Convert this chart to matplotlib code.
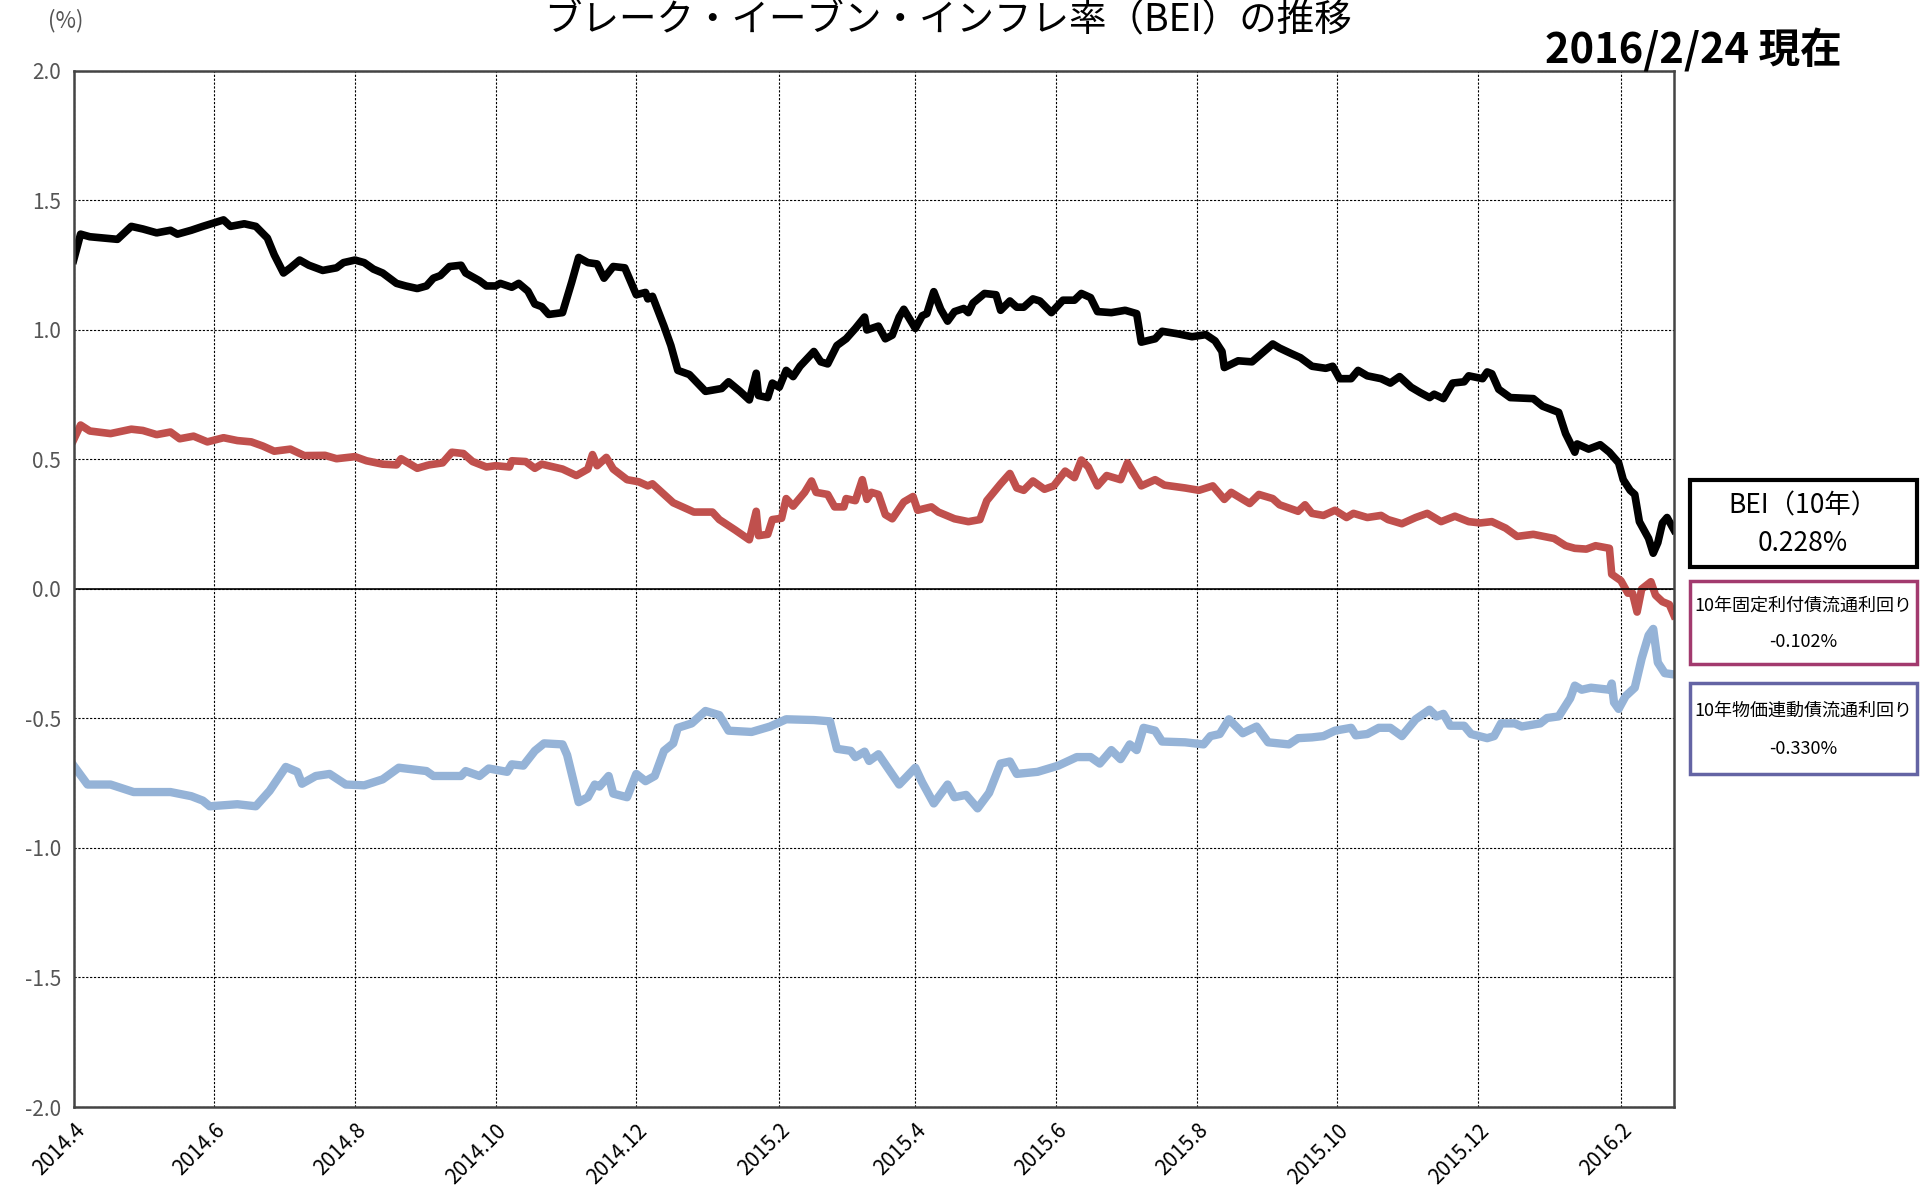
import pandas as pd
import matplotlib.pyplot as plt
from matplotlib.patches import Rectangle

plt.rcParams['font.family'] = ['Noto Sans CJK JP', 'DejaVu Sans']

# BEI (10y), black
bei_dates = [
    "2014-04-01", "2014-04-04", "2014-04-08", "2014-04-20", "2014-04-26", "2014-05-01", "2014-05-07",
    "2014-05-13", "2014-05-16", "2014-05-22", "2014-05-27", "2014-06-05", "2014-06-08", "2014-06-14",
    "2014-06-19", "2014-06-24", "2014-06-27", "2014-07-01", "2014-07-04", "2014-07-08", "2014-07-12",
    "2014-07-18", "2014-07-24", "2014-07-27", "2014-08-01", "2014-08-05", "2014-08-09", "2014-08-13",
    "2014-08-19", "2014-08-23", "2014-08-28", "2014-09-01", "2014-09-04", "2014-09-07", "2014-09-11",
    "2014-09-16", "2014-09-18", "2014-09-24", "2014-09-27", "2014-10-01", "2014-10-03", "2014-10-08",
    "2014-10-11", "2014-10-15", "2014-10-18", "2014-10-21", "2014-10-24", "2014-10-30", "2014-11-03",
    "2014-11-06", "2014-11-10", "2014-11-14", "2014-11-17", "2014-11-21", "2014-11-26", "2014-12-01",
    "2014-12-05", "2014-12-06", "2014-12-08", "2014-12-13", "2014-12-16", "2014-12-19", "2014-12-24",
    "2014-12-31", "2015-01-07", "2015-01-10", "2015-01-15", "2015-01-19", "2015-01-22", "2015-01-23",
    "2015-01-27", "2015-01-29", "2015-02-01", "2015-02-04", "2015-02-07", "2015-02-10", "2015-02-16",
    "2015-02-19", "2015-02-22", "2015-02-26", "2015-03-02", "2015-03-06", "2015-03-10", "2015-03-11",
    "2015-03-16", "2015-03-19", "2015-03-22", "2015-03-25", "2015-03-27", "2015-04-01", "2015-04-04",
    "2015-04-06", "2015-04-09", "2015-04-12", "2015-04-15", "2015-04-18", "2015-04-22", "2015-04-24",
    "2015-04-26", "2015-05-01", "2015-05-06", "2015-05-08", "2015-05-12", "2015-05-15", "2015-05-18",
    "2015-05-22", "2015-05-25", "2015-05-30", "2015-06-04", "2015-06-09", "2015-06-12", "2015-06-16",
    "2015-06-19", "2015-06-25", "2015-07-01", "2015-07-06", "2015-07-08", "2015-07-14", "2015-07-17",
    "2015-07-24", "2015-07-30", "2015-08-05", "2015-08-09", "2015-08-12", "2015-08-13", "2015-08-19",
    "2015-08-25", "2015-08-28", "2015-09-03", "2015-09-06", "2015-09-11", "2015-09-15", "2015-09-20",
    "2015-09-26", "2015-09-29", "2015-10-02", "2015-10-07", "2015-10-10", "2015-10-14", "2015-10-20",
    "2015-10-24", "2015-10-28", "2015-11-02", "2015-11-06", "2015-11-10", "2015-11-12", "2015-11-16",
    "2015-11-20", "2015-11-25", "2015-11-27", "2015-12-03", "2015-12-05", "2015-12-07", "2015-12-10",
    "2015-12-15", "2015-12-25", "2015-12-29", "2016-01-05", "2016-01-08", "2016-01-12", "2016-01-13",
    "2016-01-18", "2016-01-23", "2016-01-27", "2016-01-31", "2016-02-02", "2016-02-05", "2016-02-07",
    "2016-02-09", "2016-02-13", "2016-02-15", "2016-02-17", "2016-02-19", "2016-02-21", "2016-02-24",
]
bei_values = [
    1.27, 1.37, 1.36, 1.35, 1.40, 1.39, 1.375, 1.385, 1.37, 1.385, 1.40, 1.425, 1.40, 1.41,
    1.40, 1.355, 1.29, 1.22, 1.24, 1.27, 1.25, 1.23, 1.24, 1.26, 1.27, 1.26, 1.235, 1.22,
    1.18, 1.17, 1.16, 1.17, 1.20, 1.21, 1.245, 1.25, 1.22, 1.19, 1.17, 1.17, 1.18, 1.165,
    1.18, 1.15, 1.10, 1.09, 1.06, 1.067, 1.185, 1.28, 1.26, 1.255, 1.20, 1.245, 1.24, 1.136,
    1.145, 1.12, 1.13, 1.015, 0.94, 0.844, 0.828, 0.763, 0.774, 0.80, 0.763, 0.73, 0.833, 0.747,
    0.739, 0.795, 0.779, 0.844, 0.82, 0.86, 0.917, 0.877, 0.869, 0.94, 0.966, 1.006, 1.05, 1.00,
    1.015, 0.966, 0.98, 1.05, 1.08, 1.006, 1.055, 1.063, 1.148, 1.08, 1.034, 1.071, 1.083, 1.067,
    1.104, 1.141, 1.136, 1.076, 1.112, 1.088, 1.088, 1.12, 1.112, 1.067, 1.115, 1.115, 1.141, 1.125,
    1.071, 1.067, 1.076, 1.063, 0.953, 0.966, 0.995, 0.985, 0.974, 0.982, 0.958, 0.917, 0.855, 0.881,
    0.877, 0.90, 0.946, 0.93, 0.909, 0.893, 0.86, 0.852, 0.86, 0.812, 0.812, 0.844, 0.823, 0.812,
    0.795, 0.82, 0.779, 0.758, 0.739, 0.752, 0.735, 0.795, 0.80, 0.823, 0.812, 0.838, 0.831, 0.771,
    0.739, 0.735, 0.706, 0.682, 0.60, 0.528, 0.56, 0.54, 0.557, 0.528, 0.487, 0.422, 0.381, 0.365,
    0.26, 0.195, 0.138, 0.179, 0.255, 0.276, 0.228,
]

# 10y fixed-rate JGB yield, red
jgb_dates = [
    "2014-04-01", "2014-04-04", "2014-04-08", "2014-04-17", "2014-04-26", "2014-05-01", "2014-05-07",
    "2014-05-13", "2014-05-17", "2014-05-23", "2014-05-29", "2014-06-05", "2014-06-11", "2014-06-17",
    "2014-06-22", "2014-06-27", "2014-07-04", "2014-07-10", "2014-07-19", "2014-07-24", "2014-08-01",
    "2014-08-06", "2014-08-13", "2014-08-19", "2014-08-21", "2014-08-28", "2014-09-02", "2014-09-08",
    "2014-09-12", "2014-09-17", "2014-09-21", "2014-09-27", "2014-10-01", "2014-10-07", "2014-10-08",
    "2014-10-14", "2014-10-18", "2014-10-21", "2014-10-30", "2014-11-05", "2014-11-10", "2014-11-12",
    "2014-11-14", "2014-11-18", "2014-11-21", "2014-11-27", "2014-12-02", "2014-12-06", "2014-12-08",
    "2014-12-17", "2014-12-26", "2015-01-03", "2015-01-06", "2015-01-13", "2015-01-19", "2015-01-22",
    "2015-01-23", "2015-01-27", "2015-01-29", "2015-02-02", "2015-02-04", "2015-02-07", "2015-02-12",
    "2015-02-15", "2015-02-17", "2015-02-22", "2015-02-25", "2015-03-01", "2015-03-02", "2015-03-06",
    "2015-03-09", "2015-03-11", "2015-03-13", "2015-03-16", "2015-03-19", "2015-03-22", "2015-03-27",
    "2015-03-31", "2015-04-02", "2015-04-08", "2015-04-11", "2015-04-18", "2015-04-24", "2015-04-29",
    "2015-05-02", "2015-05-08", "2015-05-12", "2015-05-15", "2015-05-18", "2015-05-22", "2015-05-27",
    "2015-05-31", "2015-06-05", "2015-06-09", "2015-06-12", "2015-06-15", "2015-06-19", "2015-06-23",
    "2015-06-29", "2015-07-02", "2015-07-08", "2015-07-14", "2015-07-18", "2015-07-27", "2015-08-02",
    "2015-08-08", "2015-08-13", "2015-08-16", "2015-08-24", "2015-08-28", "2015-09-03", "2015-09-06",
    "2015-09-14", "2015-09-17", "2015-09-20", "2015-09-25", "2015-09-30", "2015-10-05", "2015-10-08",
    "2015-10-14", "2015-10-20", "2015-10-23", "2015-10-29", "2015-11-04", "2015-11-09", "2015-11-15",
    "2015-11-21", "2015-11-27", "2015-12-02", "2015-12-07", "2015-12-13", "2015-12-18", "2015-12-25",
    "2016-01-03", "2016-01-08", "2016-01-12", "2016-01-17", "2016-01-21", "2016-01-27", "2016-01-28",
    "2016-02-01", "2016-02-04", "2016-02-06", "2016-02-08", "2016-02-10", "2016-02-14", "2016-02-16",
    "2016-02-19", "2016-02-22", "2016-02-24",
]
jgb_values = [
    0.576, 0.633, 0.61, 0.60, 0.617, 0.612, 0.596, 0.606, 0.58, 0.59, 0.568, 0.584, 0.573, 0.568,
    0.552, 0.532, 0.54, 0.515, 0.516, 0.503, 0.511, 0.495, 0.482, 0.479, 0.503, 0.466, 0.479, 0.487,
    0.528, 0.523, 0.492, 0.471, 0.476, 0.471, 0.495, 0.492, 0.466, 0.482, 0.463, 0.438, 0.463, 0.519,
    0.476, 0.508, 0.463, 0.422, 0.414, 0.398, 0.406, 0.333, 0.297, 0.297, 0.268, 0.227, 0.19, 0.30,
    0.206, 0.211, 0.268, 0.273, 0.349, 0.32, 0.373, 0.417, 0.373, 0.365, 0.317, 0.317, 0.349, 0.341,
    0.422, 0.346, 0.373, 0.365, 0.287, 0.271, 0.336, 0.357, 0.304, 0.317, 0.297, 0.271, 0.26, 0.268,
    0.341, 0.406, 0.446, 0.39, 0.381, 0.417, 0.385, 0.398, 0.455, 0.43, 0.498, 0.471, 0.398, 0.438,
    0.422, 0.487, 0.398, 0.422, 0.401, 0.39, 0.381, 0.398, 0.346, 0.373, 0.33, 0.365, 0.349, 0.325,
    0.30, 0.325, 0.292, 0.284, 0.304, 0.276, 0.292, 0.276, 0.284, 0.268, 0.252, 0.276, 0.292, 0.26,
    0.281, 0.26, 0.255, 0.26, 0.235, 0.203, 0.211, 0.195, 0.167, 0.157, 0.154, 0.167, 0.157, 0.057,
    0.032, -0.016, -0.016, -0.089, 0.0, 0.028, -0.024, -0.049, -0.06, -0.102,
]

# 10y inflation-indexed JGB yield, light blue
jgbi_dates = [
    "2014-04-01", "2014-04-07", "2014-04-17", "2014-04-27", "2014-05-13", "2014-05-22", "2014-05-27",
    "2014-05-30", "2014-06-11", "2014-06-19", "2014-06-25", "2014-07-02", "2014-07-07", "2014-07-09",
    "2014-07-15", "2014-07-21", "2014-07-28", "2014-08-05", "2014-08-13", "2014-08-20", "2014-09-01",
    "2014-09-04", "2014-09-16", "2014-09-18", "2014-09-24", "2014-09-28", "2014-10-01", "2014-10-06",
    "2014-10-08", "2014-10-13", "2014-10-18", "2014-10-22", "2014-10-30", "2014-11-01", "2014-11-06",
    "2014-11-10", "2014-11-13", "2014-11-15", "2014-11-19", "2014-11-21", "2014-11-27", "2014-12-01",
    "2014-12-05", "2014-12-09", "2014-12-13", "2014-12-17", "2014-12-19", "2014-12-25", "2014-12-31",
    "2015-01-06", "2015-01-10", "2015-01-20", "2015-01-28", "2015-02-04", "2015-02-16", "2015-02-23",
    "2015-02-26", "2015-03-04", "2015-03-06", "2015-03-10", "2015-03-12", "2015-03-16", "2015-03-20",
    "2015-03-25", "2015-04-01", "2015-04-04", "2015-04-09", "2015-04-15", "2015-04-18", "2015-04-23",
    "2015-04-28", "2015-05-03", "2015-05-08", "2015-05-12", "2015-05-15", "2015-05-24", "2015-06-02",
    "2015-06-10", "2015-06-16", "2015-06-20", "2015-06-25", "2015-06-29", "2015-07-03", "2015-07-06",
    "2015-07-09", "2015-07-14", "2015-07-17", "2015-07-27", "2015-08-04", "2015-08-07", "2015-08-11",
    "2015-08-15", "2015-08-21", "2015-08-27", "2015-09-01", "2015-09-10", "2015-09-14", "2015-09-20",
    "2015-09-25", "2015-09-30", "2015-10-07", "2015-10-09", "2015-10-14", "2015-10-19", "2015-10-24",
    "2015-10-29", "2015-11-04", "2015-11-10", "2015-11-13", "2015-11-16", "2015-11-19", "2015-11-25",
    "2015-11-28", "2015-12-05", "2015-12-08", "2015-12-11", "2015-12-17", "2015-12-20", "2015-12-28",
    "2015-12-31", "2016-01-05", "2016-01-10", "2016-01-12", "2016-01-15", "2016-01-19", "2016-01-27",
    "2016-01-28", "2016-01-29", "2016-01-31", "2016-02-03", "2016-02-07", "2016-02-10", "2016-02-13",
    "2016-02-15", "2016-02-17", "2016-02-20", "2016-02-24",
]
jgbi_values = [
    -0.682, -0.755, -0.755, -0.784, -0.784, -0.80, -0.817, -0.839, -0.831, -0.839, -0.779, -0.687,
    -0.706, -0.752, -0.722, -0.714, -0.755, -0.758, -0.735, -0.69, -0.703, -0.722, -0.722, -0.703,
    -0.722, -0.693, -0.698, -0.706, -0.677, -0.682, -0.625, -0.596, -0.60, -0.641, -0.823, -0.804,
    -0.755, -0.763, -0.722, -0.79, -0.804, -0.714, -0.742, -0.722, -0.625, -0.596, -0.536, -0.519,
    -0.471, -0.487, -0.547, -0.552, -0.531, -0.503, -0.506, -0.511, -0.617, -0.625, -0.649, -0.628,
    -0.664, -0.638, -0.69, -0.755, -0.69, -0.747, -0.828, -0.755, -0.804, -0.795, -0.847, -0.787,
    -0.674, -0.666, -0.714, -0.706, -0.682, -0.649, -0.649, -0.674, -0.622, -0.657, -0.60, -0.622,
    -0.536, -0.547, -0.589, -0.592, -0.60, -0.568, -0.56, -0.503, -0.557, -0.531, -0.592, -0.60,
    -0.576, -0.573, -0.568, -0.547, -0.536, -0.565, -0.56, -0.536, -0.536, -0.568, -0.503, -0.466,
    -0.492, -0.482, -0.528, -0.528, -0.56, -0.576, -0.568, -0.519, -0.519, -0.531, -0.519, -0.498,
    -0.492, -0.422, -0.373, -0.389, -0.381, -0.389, -0.365, -0.438, -0.463, -0.414, -0.381, -0.268,
    -0.179, -0.154, -0.284, -0.325, -0.33,
]

tick_months = ["2014-04", "2014-06", "2014-08", "2014-10", "2014-12", "2015-02",
               "2015-04", "2015-06", "2015-08", "2015-10", "2015-12", "2016-02"]
tick_labels = ["2014.4", "2014.6", "2014.8", "2014.10", "2014.12", "2015.2",
               "2015.4", "2015.6", "2015.8", "2015.10", "2015.12", "2016.2"]
y_ticks = [-2.0, -1.5, -1.0, -0.5, 0.0, 0.5, 1.0, 1.5, 2.0]

legend_items = [
    ("BEI（10年）", "0.228%", "#000000"),
    ("10年固定利付債流通利回り", "-0.102%", "#A23A6E"),
    ("10年物価連動債流通利回り", "-0.330%", "#6464A4"),
]

fig = plt.figure(figsize=(19.23, 12.03), dpi=100)
ax = fig.add_axes([0.0383, 0.0798, 0.8322, 0.8612])

ax.plot(pd.to_datetime(jgbi_dates), jgbi_values, color="#95B3D7", lw=6, solid_joinstyle="round")
ax.plot(pd.to_datetime(jgb_dates), jgb_values, color="#C0504D", lw=5.5, solid_joinstyle="round")
ax.plot(pd.to_datetime(bei_dates), bei_values, color="black", lw=5.5, solid_joinstyle="round")

ax.set_xlim(pd.Timestamp("2014-04-01"), pd.Timestamp("2016-02-24"))
ax.set_ylim(-2.0, 2.0)
ax.set_yticks(y_ticks)
ax.set_yticklabels([f"{v:.1f}" for v in y_ticks], color="#555555", fontsize=15)
ax.set_xticks(pd.to_datetime(tick_months))
ax.set_xticklabels(tick_labels, rotation=45, ha="right", rotation_mode="anchor", fontsize=15)
ax.tick_params(axis="both", length=0, pad=9)

ax.grid(True, color="black", linestyle=(0, (2, 1.5)), linewidth=0.8)
ax.axhline(0, color="black", lw=1.2)
for s in ax.spines.values():
    s.set_color("#444444")
    s.set_linewidth(1.8)

fig.text(0.493, 0.999, "ブレーク・イーブン・インフレ率（BEI）の推移", ha="center", va="top", fontsize=27)
fig.text(0.958, 0.958, "2016/2/24 現在", ha="right", va="center", fontsize=30, fontweight="bold")
fig.text(0.034, 0.983, "(%)", ha="center", va="center", fontsize=16, color="#555555")

# value boxes on the right
box_tops = [480, 581, 683]
box_bottoms = [567, 664, 774]
for (name, val, col), top, bot in zip(legend_items, box_tops, box_bottoms):
    y0 = 1 - bot / 1203
    h = (bot - top) / 1203
    fig.add_artist(Rectangle((1690 / 1923, y0), 227 / 1923, h, transform=fig.transFigure,
                             fill=False, edgecolor=col, linewidth=3 if col == "#000000" else 2.5))
    size = 19 if col == "#000000" else 13
    fig.text(1803 / 1923, y0 + h * 0.70, name, ha="center", va="center", fontsize=size)
    fig.text(1803 / 1923, y0 + h * 0.27, val, ha="center", va="center", fontsize=size)

fig.savefig("out.png", dpi=100)
